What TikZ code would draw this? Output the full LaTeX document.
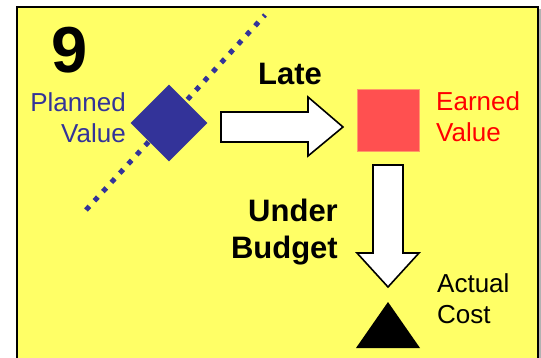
\documentclass[tikz,border=0pt]{standalone}
\usepackage{fontspec}
\setmainfont{Liberation Sans}
\usetikzlibrary{shapes.geometric}
\definecolor{panelyellow}{HTML}{FFFF66}
\definecolor{pvblue}{HTML}{333399}
\definecolor{evred}{HTML}{FF5050}
\definecolor{evedge}{HTML}{FF9966}
\tikzset{
  lbl/.style={inner sep=0pt, font=\fontsize{26}{31}\selectfont},
  boldlbl/.style={inner sep=0pt, font=\fontsize{31}{37}\selectfont\bfseries},
  blockarrow/.style={draw=black, fill=white, line width=1.6pt, line join=miter},
  baseline/.style={draw=pvblue, line width=5pt, dash pattern=on 5pt off 7.5pt}
}
\begin{document}
\begin{tikzpicture}[x=1pt, y=-1pt]
  \useasboundingbox (0,0) rectangle (541,358);
  % panel
  \fill[gray!60] (19,9) rectangle (541,372);
  \draw[fill=panelyellow, line width=2pt] (17,7) rectangle (538,370);

  % schedule baseline through the planned value
  \coordinate (blA) at (86,210);
  \coordinate (blB) at (265,15);
  \draw[baseline] (blA) -- (blB);

  % markers
  \node[diamond, fill=pvblue, inner sep=0pt, minimum size=77pt] (pv) at (169,123) {};
  \node[draw=evedge, line width=0.6pt, fill=evred, inner sep=0pt, minimum size=62pt] (ev) at (388,120) {};
  \coordinate (acApex) at (388,302);
  \fill[black] (acApex) -- ++(32,46) -- ++(-64,0) -- cycle;

  % big number
  \node[inner sep=0pt, font=\fontsize{65}{65}\selectfont\bfseries] (num) at (70,50) {9};

  % labels
  \node[lbl, text=pvblue, align=right, anchor=north east] (pvl) at (126,92) {Planned\\Value};
  \node[lbl, text=red, align=left, anchor=north west] (evl) at (436,91) {Earned\\Value};
  \node[lbl, align=left, anchor=north west] (acl) at (437,273) {Actual\\Cost};
  \node[boldlbl, anchor=base] (late) at (290,85) {Late};
  \node[boldlbl, align=right, anchor=north east] (under) at (338,199) {Under\\Budget};

  % block arrows
  \coordinate (lateS) at (221,127);
  \coordinate (lateT) at (343,127);
  \draw[blockarrow] (lateS) ++(0,-15) -- ++(87,0) -- ++(0,-15) -- (lateT)
     -- ++(-35,29) -- ++(0,-14) -- ++(-87,0) -- cycle;
  \coordinate (budS) at (388,165);
  \coordinate (budT) at (388,287);
  \draw[blockarrow] (budS) ++(-15,0) -- ++(0,88) -- ++(-16,0) -- (budT)
     -- ++(31,-34) -- ++(-16,0) -- ++(0,-88) -- cycle;
\end{tikzpicture}
\end{document}
